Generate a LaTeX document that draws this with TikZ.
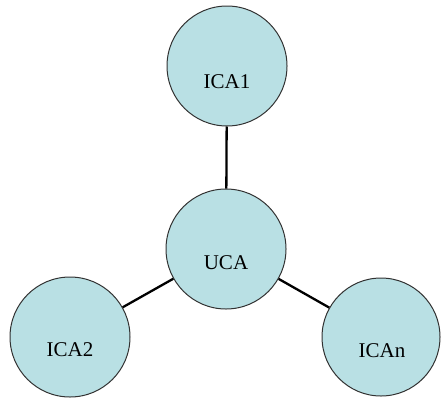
\documentclass[tikz,border=0pt]{standalone}
\usepackage{fontspec}
\setmainfont{Liberation Serif}
\definecolor{cafill}{RGB}{185,224,228}
\definecolor{caline}{RGB}{50,50,50}
\begin{document}
\begin{tikzpicture}[x=1pt,y=-1pt,
  ca/.style={circle,draw=caline,line width=1pt,fill=cafill,minimum size=120pt,inner sep=0pt},
  lbl/.style={font=\fontsize{21}{23}\selectfont,text=black},
  link/.style={line width=2.3pt,black}]
\useasboundingbox (0,0) rectangle (443,399);
\node[ca] (ica1) at (227,66) {};
\node[ca] (uca) at (226,249) {};
\node[ca] (ica2) at (70,337) {};
\node[ca,minimum size=118pt] (ican) at (381,337) {};
\draw[link] (ica1) -- (uca);
\draw[link] (ica2) -- (uca);
\draw[link] (uca) -- (ican);
\node[lbl] (t1) at (227,82) {ICA1};
\node[lbl] (tu) at (226,263) {UCA};
\node[lbl] (t2) at (70,350) {ICA2};
\node[lbl] (tn) at (382,351) {ICAn};
\end{tikzpicture}
\end{document}
